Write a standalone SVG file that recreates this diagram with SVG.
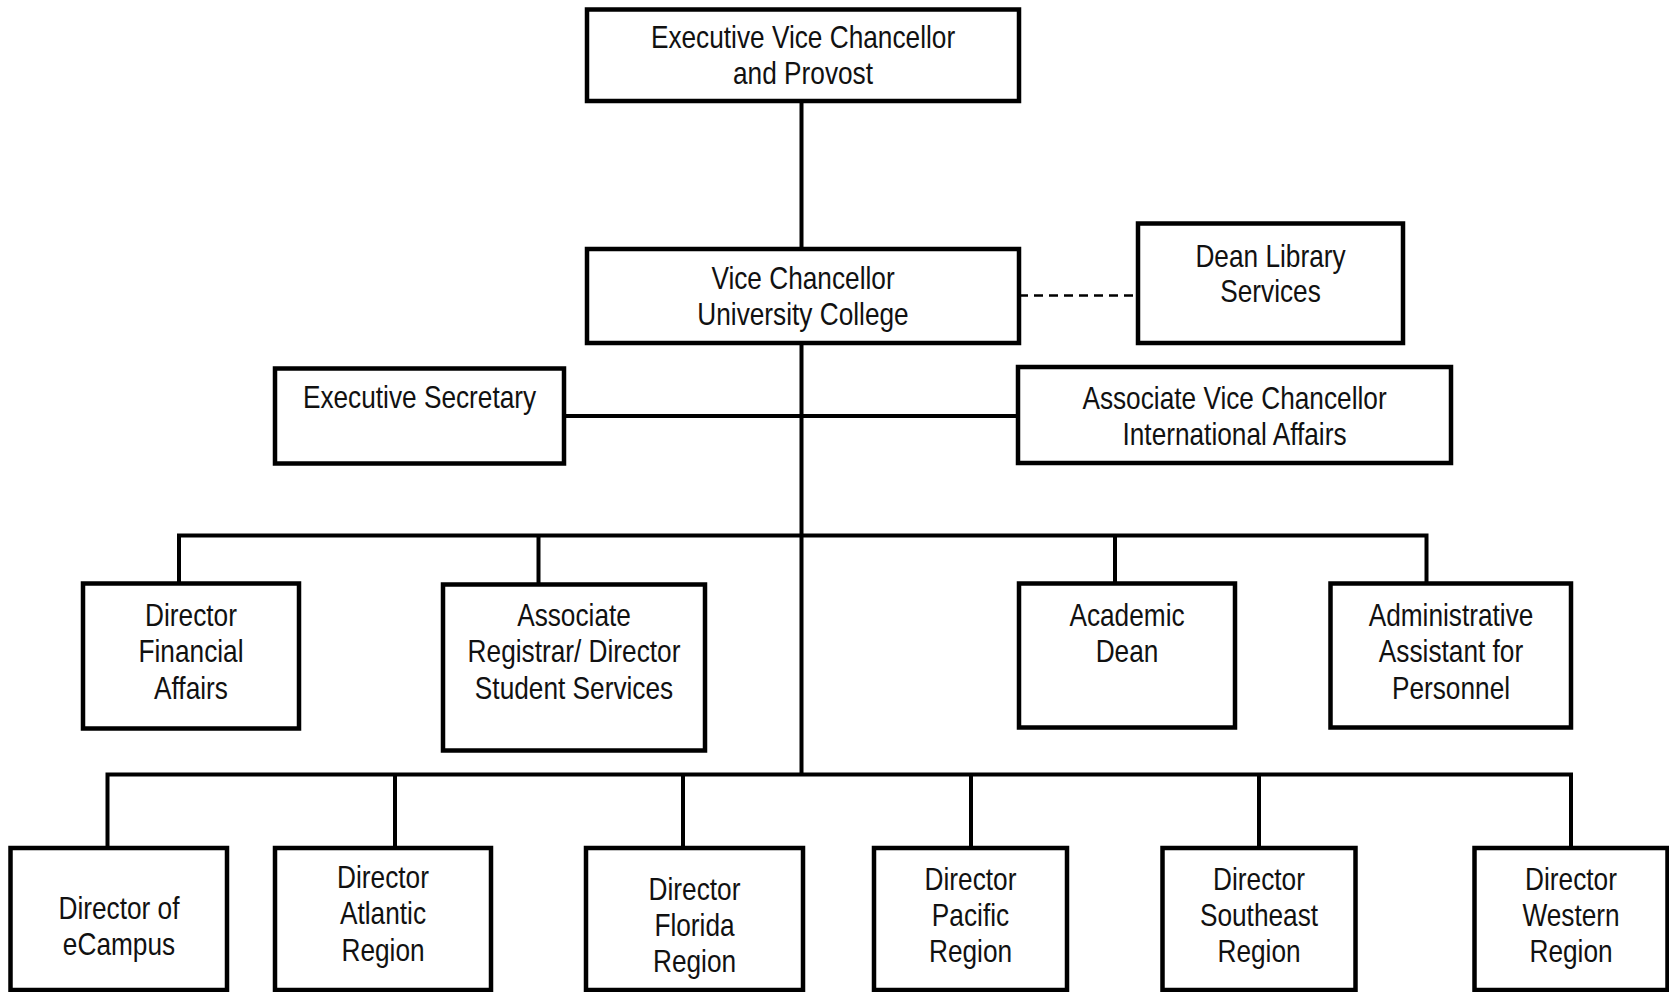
<svg xmlns="http://www.w3.org/2000/svg" width="1669" height="992" viewBox="0 0 1669 992">
<style>
.box{fill:#fff;stroke:#000;stroke-width:4.5}
.ln{stroke:#000;stroke-width:4;fill:none}
.dash{stroke:#000;stroke-width:2.5;stroke-dasharray:9 6;fill:none}
text{font-family:"Liberation Sans",Arial,sans-serif;font-size:32px;fill:#111;text-anchor:middle}
</style>
<rect width="1669" height="992" fill="#fff"/>
<g id="connectors">
<line class="ln" x1="801.5" y1="100" x2="801.5" y2="776"/>
<line class="ln" x1="564" y1="416" x2="1018" y2="416"/>
<polyline class="ln" points="179,583 179,535.5 1426.5,535.5 1426.5,583"/>
<line class="ln" x1="538.5" y1="535.5" x2="538.5" y2="584"/>
<line class="ln" x1="1115" y1="535.5" x2="1115" y2="583"/>
<polyline class="ln" points="107.5,848 107.5,774.5 1571,774.5 1571,848"/>
<line class="ln" x1="395" y1="774.5" x2="395" y2="848"/>
<line class="ln" x1="683" y1="774.5" x2="683" y2="848"/>
<line class="ln" x1="971" y1="774.5" x2="971" y2="848"/>
<line class="ln" x1="1259" y1="774.5" x2="1259" y2="848"/>
<line class="dash" x1="1019" y1="295.5" x2="1138" y2="295.5"/>
</g>
<g id="evc"><rect class="box" x="587" y="9.5" width="432" height="91.5"/><g transform="translate(803 1.5) scale(0.82 1)"><text x="0" y="47">Executive Vice Chancellor</text><text x="0" y="83">and Provost</text></g></g>
<g id="vc"><rect class="box" x="587" y="249" width="432" height="94"/><g transform="translate(803 1.5) scale(0.82 1)"><text x="0" y="288">Vice Chancellor</text><text x="0" y="324">University College</text></g></g>
<g id="dean"><rect class="box" x="1138" y="223.5" width="265" height="119.5"/><g transform="translate(1270.5 1.5) scale(0.82 1)"><text x="0" y="266">Dean Library</text><text x="0" y="301">Services</text></g></g>
<g id="execsec"><rect class="box" x="275" y="368.5" width="289" height="95"/><g transform="translate(419.5 1) scale(0.82 1)"><text x="0" y="407">Executive Secretary</text></g></g>
<g id="assocvc"><rect class="box" x="1018" y="367" width="433" height="96"/><g transform="translate(1234.5 1.5) scale(0.82 1)"><text x="0" y="407.5">Associate Vice Chancellor</text><text x="0" y="443.5">International Affairs</text></g></g>
<g id="dfa"><rect class="box" x="83" y="583.5" width="216" height="145"/><g transform="translate(191 1.5) scale(0.82 1)"><text x="0" y="625">Director</text><text x="0" y="661">Financial</text><text x="0" y="697.5">Affairs</text></g></g>
<g id="assocreg"><rect class="box" x="443" y="584.5" width="262" height="166"/><g transform="translate(574 1.5) scale(0.82 1)"><text x="0" y="625">Associate</text><text x="0" y="661">Registrar/ Director</text><text x="0" y="697.5">Student Services</text></g></g>
<g id="acaddean"><rect class="box" x="1019" y="583.5" width="216" height="144"/><g transform="translate(1127 1.5) scale(0.82 1)"><text x="0" y="625">Academic</text><text x="0" y="661">Dean</text></g></g>
<g id="admin"><rect class="box" x="1330.5" y="583.5" width="240.5" height="144"/><g transform="translate(1451 1.5) scale(0.82 1)"><text x="0" y="625">Administrative</text><text x="0" y="661">Assistant for</text><text x="0" y="697.5">Personnel</text></g></g>
<g id="ecampus"><rect class="box" x="10.5" y="848" width="216.5" height="142"/><g transform="translate(119 1.5) scale(0.82 1)"><text x="0" y="918">Director of</text><text x="0" y="954">eCampus</text></g></g>
<g id="atlantic"><rect class="box" x="275" y="848" width="216" height="142"/><g transform="translate(383 1.5) scale(0.82 1)"><text x="0" y="887">Director</text><text x="0" y="923">Atlantic</text><text x="0" y="959.5">Region</text></g></g>
<g id="florida"><rect class="box" x="586" y="848" width="217" height="142"/><g transform="translate(694.5 1.5) scale(0.82 1)"><text x="0" y="899">Director</text><text x="0" y="935">Florida</text><text x="0" y="971">Region</text></g></g>
<g id="pacific"><rect class="box" x="874" y="848" width="193" height="142"/><g transform="translate(970.5 1.5) scale(0.82 1)"><text x="0" y="889">Director</text><text x="0" y="925">Pacific</text><text x="0" y="961">Region</text></g></g>
<g id="southeast"><rect class="box" x="1162.5" y="848" width="193" height="142"/><g transform="translate(1259 1.5) scale(0.82 1)"><text x="0" y="889">Director</text><text x="0" y="925">Southeast</text><text x="0" y="961">Region</text></g></g>
<g id="western"><rect class="box" x="1474.5" y="848" width="193" height="142"/><g transform="translate(1571 1.5) scale(0.82 1)"><text x="0" y="889">Director</text><text x="0" y="925">Western</text><text x="0" y="961">Region</text></g></g>
</svg>
